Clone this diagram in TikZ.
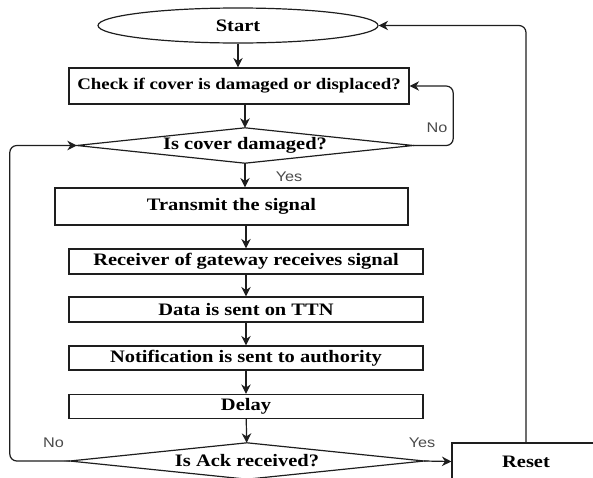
\documentclass[tikz,border=0pt]{standalone}
\usepackage{fontspec}
\setmainfont{Liberation Serif}[FakeStretch=1.17]
\newfontfamily\lblfont{Liberation Sans}[FakeStretch=1.16]
\usetikzlibrary{arrows.meta,shapes.geometric}
\definecolor{lncol}{HTML}{1E1E1E}
\definecolor{lblcol}{HTML}{4A4A4A}
\tikzset{
  box/.style={draw=lncol, line width=1.2pt, rectangle, inner sep=0pt, font=\bfseries\fontsize{17.5}{19}\selectfont},
  ell/.style={draw=lncol, line width=1.2pt, ellipse, inner sep=0pt, font=\bfseries\fontsize{17.5}{19}\selectfont},
  dtext/.style={inner sep=0pt, font=\bfseries\fontsize{17.5}{19}\selectfont},
  dshape/.style={draw=lncol, line width=1.2pt, line join=miter},
  arr/.style={draw=lncol, line width=1.2pt, -{Stealth[length=9.5pt,width=9.5pt]}},
  lbl/.style={text=lblcol, inner sep=0pt, font=\lblfont\fontsize{14}{15}\selectfont}
}
\begin{document}
\begin{tikzpicture}[x=1pt,y=-1pt]
\useasboundingbox (0,0) rectangle (593,477);
\clip (0,0) rectangle (593,477);
% nodes
\node[ell, minimum width=280pt, minimum height=35pt] (start) at (238,25.5) {Start};
\node[box, minimum width=340pt, minimum height=36pt, font=\bfseries\fontsize{16.1}{18}\selectfont] (check) at (239,86) {Check if cover is damaged or displaced?};
\node[dtext, minimum width=336pt, minimum height=35pt] (d1) at (245,145.5) {Is cover damaged?};
\draw[dshape] (d1.west) -- (d1.north) -- (d1.east) -- (d1.south) -- cycle;
\node[box, minimum width=353pt, minimum height=37pt] (transmit) at (231.5,206.5) {Transmit the signal};
\node[box, minimum width=354pt, minimum height=25pt] (receiver) at (246,261.5) {Receiver of gateway receives signal};
\node[box, minimum width=354pt, minimum height=25pt] (data) at (246,309.5) {Data is sent on TTN};
\node[box, minimum width=354pt, minimum height=24pt] (notif) at (246,358) {Notification is sent to authority};
\node[box, minimum width=354pt, minimum height=24pt] (delay) at (246,406.5) {Delay};
\node[dtext, minimum width=354pt, minimum height=36pt] (ack) at (247,461) {Is Ack received?};
\draw[dshape] (ack.west) -- (ack.north) -- (ack.east) -- (ack.south) -- cycle;
\node[box, minimum width=148pt, minimum height=37pt] (reset) at (526,461.5) {Reset};
% connectors
\draw[arr] (start.south) -- (start.south |- check.north);
\draw[arr] (d1.north |- check.south) -- (d1.north);
\draw[arr] (d1.south) -- (d1.south |- transmit.north);
\draw[arr] (receiver.north |- transmit.south) -- (receiver.north);
\draw[arr] (receiver) -- (data);
\draw[arr] (data) -- (notif);
\draw[arr] (notif) -- (delay);
\draw[arr] (delay) -- (ack);
\draw[arr, rounded corners=7pt] (d1.east) -- ++(40,0) |- (check.east);
\draw[arr, rounded corners=7pt] (ack.west) -- ++(-60,0) |- (d1.west);
\draw[arr] (ack.east) -- (reset.west);
\draw[arr, rounded corners=7pt] (reset.north) |- (start.east);
% labels
\node[lbl] (lno1) at (437,128) {No};
\node[lbl] (lyes1) at (289,177) {Yes};
\node[lbl] (lno2) at (53.5,443) {No};
\node[lbl] (lyes2) at (422,443) {Yes};
\end{tikzpicture}
\end{document}
